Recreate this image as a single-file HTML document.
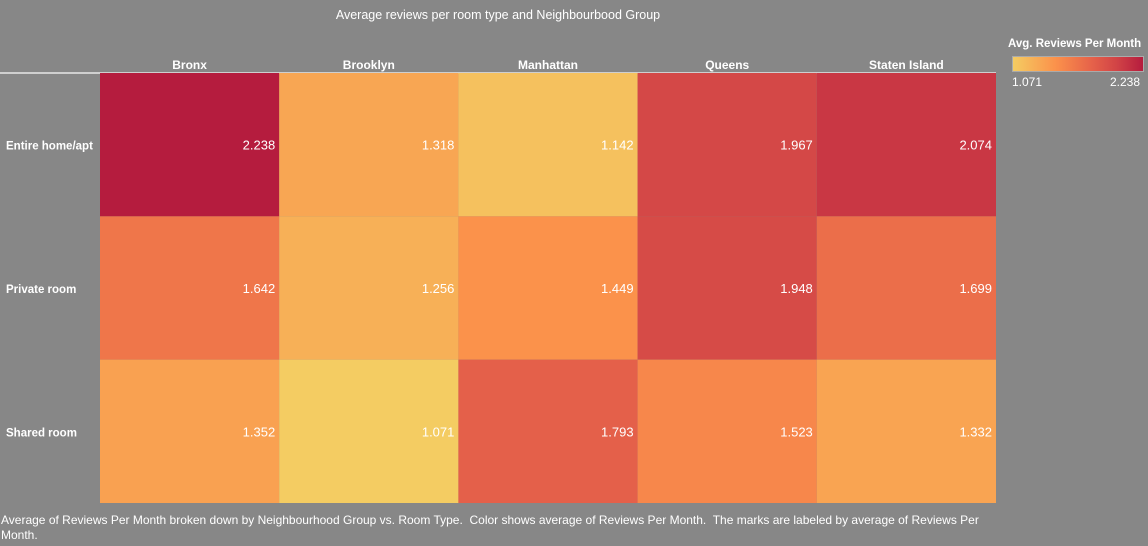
<!DOCTYPE html>
<html><head><meta charset="utf-8"><style>
body{margin:0;width:1148px;height:546px;background:#878787;font-family:"Liberation Sans",sans-serif;overflow:hidden;position:relative;color:#fff}
.t{position:absolute;white-space:nowrap}
</style></head><body>
<div class="t" style="left:0;width:996px;top:8px;text-align:center;font-size:12.5px">Average reviews per room type and Neighbourbood Group</div>
<div style="position:absolute;left:0;top:72px;width:996px;height:2px;background:#cfcfcf"></div>
<svg id="hm" width="1148" height="546" style="position:absolute;left:0;top:0"></svg>
<div class="t" style="left:1008px;top:38px;font-size:11.5px;font-weight:bold">Avg. Reviews Per Month</div>
<div style="position:absolute;left:1012px;top:56px;width:130px;height:14px;border:1px solid #aaa;background:linear-gradient(to right,#f4cc62,#fb914b 33%,#e6634a 60%,#d14346 80%,#b51c3e)"></div>
<div class="t" style="left:1012px;top:75px;font-size:12px">1.071</div>
<div class="t" style="left:1110px;top:75px;font-size:12px">2.238</div>
<div class="t" style="left:1px;top:513px;font-size:12px;white-space:normal;width:1000px;line-height:15px">Average of Reviews Per Month broken down by Neighbourhood Group vs. Room Type.&nbsp; Color shows average of Reviews Per Month.&nbsp; The marks are labeled by average of Reviews Per Month.</div>
<script>
const cols=["Bronx","Brooklyn","Manhattan","Queens","Staten Island"];
const rows=["Entire home/apt","Private room","Shared room"];
const vEntire=[2.238,1.318,1.142,1.967,2.074];
const vPrivate=[1.642,1.256,1.449,1.948,1.699];
const vShared=[1.352,1.071,1.793,1.523,1.332];
const values=[vEntire,vPrivate,vShared];
const x0=100,x1=996,y0=73,y1=503;
const cw=(x1-x0)/cols.length,rh=(y1-y0)/rows.length;
const xs=i=>x0+i*cw, ys=j=>y0+j*rh;
const all=values.flat(),mn=Math.min(...all),mx=Math.max(...all);
const stops=[[0,[244,204,98]],[0.33,[251,145,75]],[0.6,[230,99,74]],[0.8,[209,67,70]],[1,[181,28,62]]];
function col(v){let t=(v-mn)/(mx-mn||1);for(let k=1;k<stops.length;k++){if(t<=stops[k][0]){const a=stops[k-1],b=stops[k],f=(t-a[0])/(b[0]-a[0]);return 'rgb('+a[1].map((c,i)=>Math.round(c+(b[1][i]-c)*f)).join(',')+')';}}return 'rgb(181,28,62)';}
const svg=document.getElementById('hm'),NS='http://www.w3.org/2000/svg';
function mk(tag,attrs,txt){const e=document.createElementNS(NS,tag);for(const k in attrs)e.setAttribute(k,attrs[k]);if(txt!=null)e.textContent=txt;svg.appendChild(e);return e;}
cols.forEach((c,i)=>{const e=mk('text',{x:xs(i)+cw/2,y:69,'text-anchor':'middle','font-size':12,'font-weight':'bold',fill:'#fff'},c);

});
rows.forEach((r,j)=>{const e=mk('text',{x:6,y:ys(j)+rh/2+5,'font-size':11.5,'font-weight':'bold',fill:'#fff'},r);


values[j].forEach((v,i)=>{const c=mk('rect',{x:xs(i),y:ys(j),width:cw,height:rh,fill:col(v)});


const l=mk('text',{x:xs(i)+cw-4,y:ys(j)+rh/2+5,'text-anchor':'end','font-size':13,fill:'#fff'},v.toFixed(3));

});});
</script>
</body></html>
